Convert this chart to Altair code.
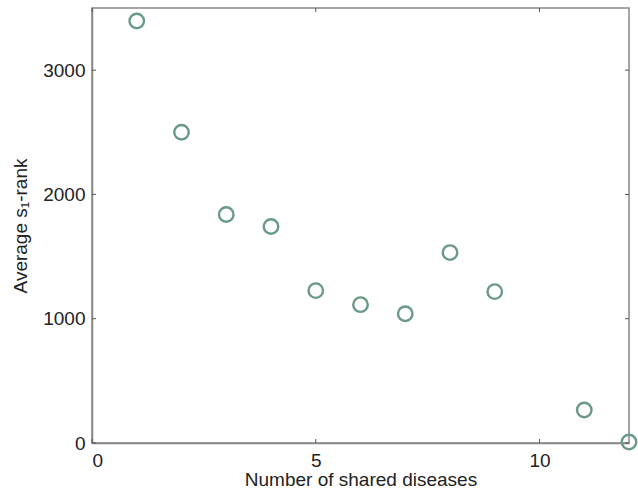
import altair as alt
import pandas as pd

shared = [1, 2, 3, 4, 5, 6, 7, 8, 9, 11, 12]
avg_rank = [3395, 2500, 1839, 1742, 1226, 1113, 1040, 1532, 1218, 266, 8]

x_ticks = [0, 5, 10]
y_ticks = [0, 1000, 2000, 3000]
x_max = 12
y_max = 3500

df = pd.DataFrame({"n": shared, "r": avg_rank})

xs = alt.Scale(domain=[0, x_max], nice=False, zero=False)
ys = alt.Scale(domain=[0, y_max], nice=False, zero=False)

tick_len_y = 32   # data units (~4px)
tick_len_x = 0.09

xt = pd.DataFrame({"x": x_ticks})
xt_bot = xt.assign(y0=0, y1=tick_len_y)
xt_top = xt.assign(y0=y_max, y1=y_max - tick_len_y)
yt = pd.DataFrame({"y": y_ticks})
yt_left = yt.assign(x0=0, x1=tick_len_x)
yt_right = yt.assign(x0=x_max, x1=x_max - tick_len_x)

tick_color = "#555555"

points = alt.Chart(df).mark_point(
    shape="circle", filled=False, size=210, strokeWidth=2.4, color="#6a9a86", opacity=1
).encode(
    x=alt.X("n:Q", scale=xs, title="Number of shared diseases",
            axis=alt.Axis(values=x_ticks, format="d", grid=False, tickSize=0, labelPadding=8,
                          titlePadding=0, domainColor="#888888")),
    y=alt.Y("r:Q", scale=ys, title="Average s₁-rank",
            axis=alt.Axis(values=y_ticks, format="d", grid=False, tickSize=0, labelPadding=7,
                          titlePadding=12, domainColor="#888888")),
)

def xtick(d):
    return alt.Chart(d).mark_rule(color=tick_color, strokeWidth=1).encode(
        x=alt.X("x:Q", scale=xs), y=alt.Y("y0:Q", scale=ys), y2="y1:Q")

def ytick(d):
    return alt.Chart(d).mark_rule(color=tick_color, strokeWidth=1).encode(
        y=alt.Y("y:Q", scale=ys), x=alt.X("x0:Q", scale=xs), x2="x1:Q")

chart = alt.layer(
    xtick(xt_bot), xtick(xt_top), ytick(yt_left), ytick(yt_right), points
).properties(
    width=537, height=435,
    autosize=alt.AutoSizeParams(type="none"),
    padding={"left": 92, "top": 8, "right": 9, "bottom": 45},
    background="white",
).configure_view(
    stroke="#888888", strokeWidth=1.5
).configure_axis(
    labelFont="Liberation Sans", titleFont="Liberation Sans",
    labelFontSize=19, titleFontSize=19, labelColor="#222222", titleColor="#222222",
    titleFontWeight="normal", domainWidth=1.5,
)

chart.save("out.html", embed_options={"renderer": "svg", "actions": False})
